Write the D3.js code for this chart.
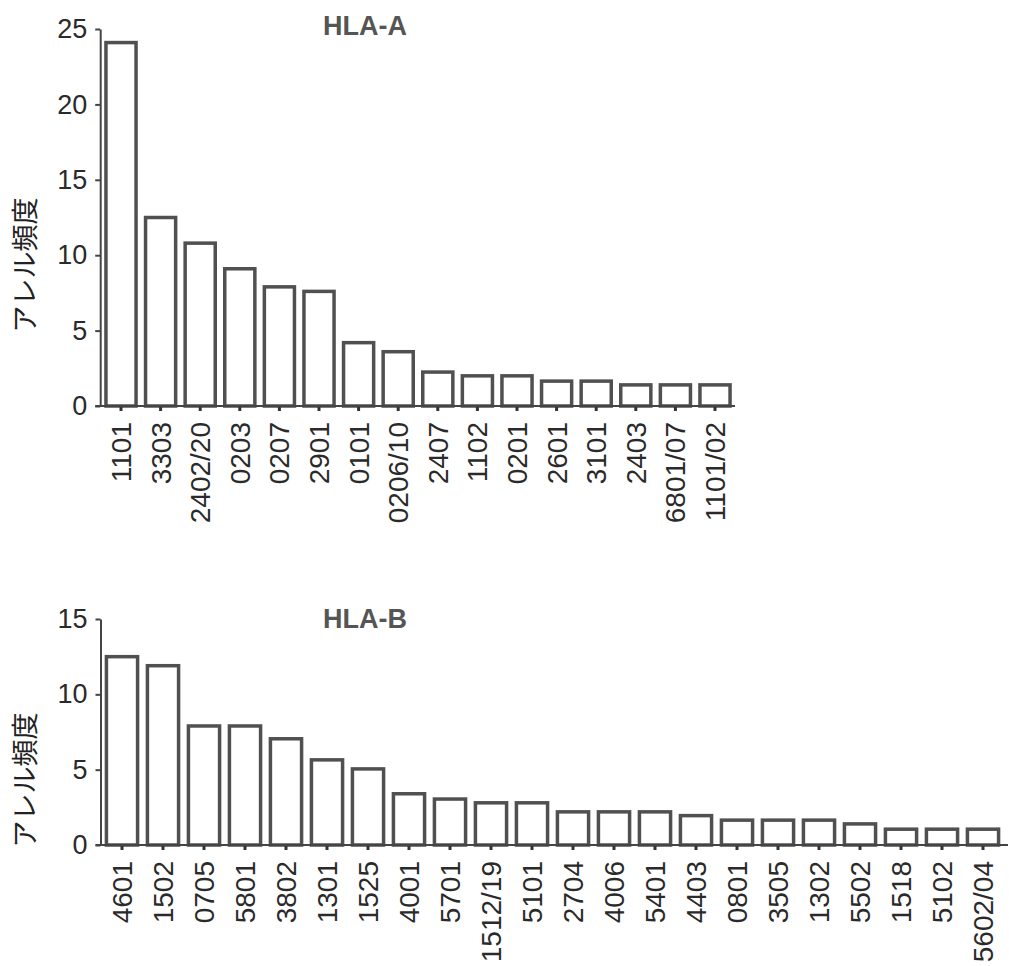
<!DOCTYPE html>
<html lang="ja">

<head>
    <meta charset="UTF-8" />
    <title>HLA-A / HLA-B アレル頻度</title>
    <script src="https://d3js.org/d3.v7.min.js"></script>
    <style>
        body { margin: 0; background: #fff; }
        svg { display: block; }
    </style>
</head>

<body>
    <script>
        // HLA-A alleles and frequencies (%)
        var allelesA = ["1101", "3303", "2402/20", "0203", "0207", "2901", "0101", "0206/10",
            "2407", "1102", "0201", "2601", "3101", "2403", "6801/07", "1101/02"];
        var freqA = [24.1, 12.5, 10.8, 9.1, 7.9, 7.6, 4.2, 3.6,
            2.25, 2.0, 2.0, 1.65, 1.65, 1.4, 1.4, 1.4];
        var ticksA = [0, 5, 10, 15, 20, 25];

        // HLA-B alleles and frequencies (%)
        var allelesB = ["4601", "1502", "0705", "5801", "3802", "1301", "1525", "4001", "5701",
            "1512/19", "5101", "2704", "4006", "5401", "4403", "0801", "3505", "1302",
            "5502", "1518", "5102", "5602/04"];
        var freqB = [12.5, 11.9, 7.9, 7.9, 7.05, 5.65, 5.05, 3.4, 3.05,
            2.8, 2.8, 2.2, 2.2, 2.2, 1.95, 1.65, 1.65, 1.65,
            1.4, 1.05, 1.05, 1.05];
        var ticksB = [0, 5, 10, 15];

        var w = 1009;
        var h = 966;

        var svg = d3.select("body")
            .append("svg")
            .attr("width", w)
            .attr("height", h);

        function drawPanel(opt) {
            var g = svg.append("g");

            var xScale = d3.scaleBand()
                .domain(opt.cats)
                .range([opt.x0, opt.x1])
                .paddingInner(0.24)
                .paddingOuter(0.12);

            var yScale = d3.scaleLinear()
                .domain([0, opt.ymax])
                .range([opt.y0, opt.y1]);

            // bars
            g.selectAll("rect")
                .data(opt.vals)
                .enter()
                .append("rect")
                .attr("x", function (d, i) { return xScale(opt.cats[i]); })
                .attr("y", function (d) { return yScale(d); })
                .attr("width", xScale.bandwidth())
                .attr("height", function (d) { return opt.y0 - yScale(d); })
                .attr("fill", "#fff")
                .attr("stroke", "#505050")
                .attr("stroke-width", 3.5);

            // x axis
            var xAxis = d3.axisBottom(xScale).tickSize(5).tickSizeOuter(0);
            var gx = g.append("g")
                .attr("class", "x axis")
                .attr("transform", "translate(0," + opt.y0 + ")")
                .call(xAxis);
            gx.select(".domain").remove();
            gx.selectAll(".tick line")
                .attr("stroke", "#333")
                .attr("stroke-width", 3);
            gx.selectAll("text")
                .attr("transform", "rotate(-90)")
                .attr("text-anchor", "end")
                .attr("x", -16)
                .attr("y", 0)
                .attr("dy", "0.36em")
                .style("font-family", "'Liberation Sans', Arial, sans-serif")
                .style("font-size", "28px")
                .style("fill", "#2a2a2a");

            g.append("line")
                .attr("x1", opt.x0 - 6)
                .attr("x2", opt.lineEnd)
                .attr("y1", opt.y0)
                .attr("y2", opt.y0)
                .attr("stroke", "#444")
                .attr("stroke-width", 2);

            // y axis
            var yAxis = d3.axisLeft(yScale).tickValues(opt.ticks).tickSize(5).tickPadding(8).tickSizeOuter(0);
            var gy = g.append("g")
                .attr("class", "y axis")
                .attr("transform", "translate(" + (opt.x0 - 1) + ",0)")
                .call(yAxis);
            gy.select(".domain")
                .attr("stroke", "#444")
                .attr("stroke-width", 2);
            gy.selectAll(".tick line")
                .attr("stroke", "#444")
                .attr("stroke-width", 2);
            gy.selectAll("text")
                .style("font-family", "'Liberation Sans', Arial, sans-serif")
                .style("font-size", "27px")
                .style("fill", "#2a2a2a");

            // title
            g.append("text")
                .attr("x", 323)
                .attr("y", opt.titleY)
                .text(opt.title)
                .style("font-family", "'Liberation Sans', Arial, sans-serif")
                .style("font-weight", "bold")
                .style("font-size", "27px")
                .style("fill", "#555");

            // y label
            g.append("text")
                .attr("transform", "translate(" + 35 + "," + opt.labelY + ") rotate(-90)")
                .attr("text-anchor", "middle")
                .text("アレル頻度")
                .style("font-family", "'Noto Sans CJK JP', sans-serif")
                .style("font-size", "27px")
                .style("fill", "#222");
        }

        drawPanel({
            cats: allelesA, vals: freqA, ticks: ticksA, ymax: 25,
            x0: 101.2, x1: 734.8, lineEnd: 735,
            y0: 406, y1: 29, titleY: 35, labelY: 265, title: "HLA-A"
        });

        drawPanel({
            cats: allelesB, vals: freqB, ticks: ticksB, ymax: 15,
            x0: 101.5, x1: 1003.5, lineEnd: 1008,
            y0: 845, y1: 619, titleY: 628, labelY: 780, title: "HLA-B"
        });
    </script>
</body>

</html>
